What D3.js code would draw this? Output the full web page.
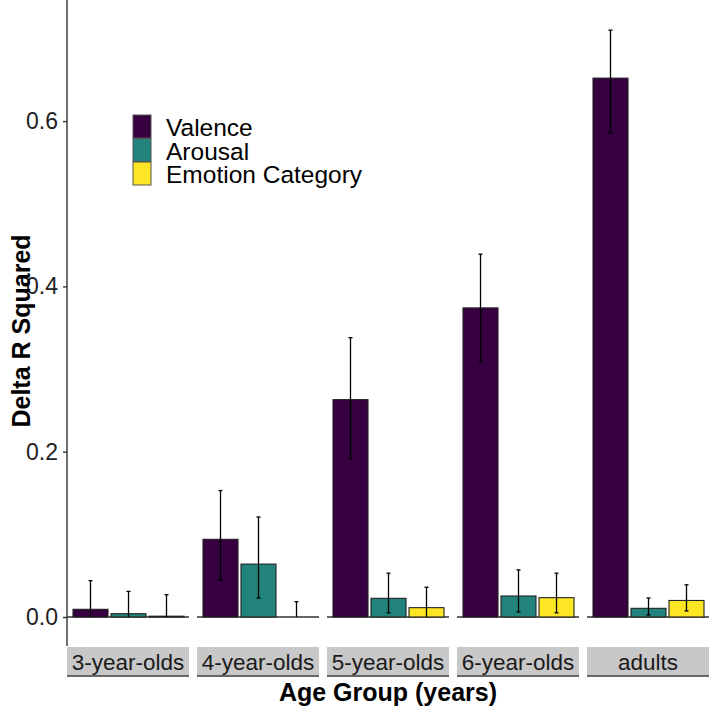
<!DOCTYPE html>
<html>
<head>
<meta charset="utf-8">
<script src="https://cdn.jsdelivr.net/npm/d3@7"></script>
<style>
  html, body { margin: 0; padding: 0; background: #fff; }
  svg { display: block; font-family: "Liberation Sans", Arial, sans-serif; }
</style>
</head>
<body>
<svg id="chart" width="709" height="709"></svg>
<script>
// ---- data ----
const ageGroups = ["3-year-olds", "4-year-olds", "5-year-olds", "6-year-olds", "adults"];
const series = ["Valence", "Arousal", "Emotion Category"];
const colors = ["#360040", "#21837B", "#FDE725"];
const valence      = [0.0093, 0.094, 0.263, 0.374, 0.652];
const valenceLow   = [0.000, 0.045, 0.191, 0.309, 0.586];
const valenceHigh  = [0.044, 0.153, 0.338, 0.439, 0.710];
const arousal      = [0.004, 0.064, 0.0226, 0.0254, 0.0105];
const arousalLow   = [0.000, 0.023, 0.005, 0.006, 0.0024];
const arousalHigh  = [0.031, 0.121, 0.053, 0.057, 0.023];
const emotion      = [0.001, 0.000, 0.0113, 0.0234, 0.020];
const emotionLow   = [0.000, 0.000, 0.000, 0.005, 0.0073];
const emotionHigh  = [0.027, 0.0185, 0.036, 0.053, 0.039];
const yTicks = [0.0, 0.2, 0.4, 0.6];

const values = [valence, arousal, emotion];
const lows = [valenceLow, arousalLow, emotionLow];
const highs = [valenceHigh, arousalHigh, emotionHigh];

const rows = [];
ageGroups.forEach((g, gi) => {
  series.forEach((s, si) => {
    rows.push({group: g, series: s, si, value: values[si][gi], low: lows[si][gi], high: highs[si][gi]});
  });
});

// ---- layout ----
const svg = d3.select("#chart");
const zeroY = 617;
const y = d3.scaleLinear().domain([0, 0.2]).range([zeroY, zeroY - 165.3]);
const panelTop = 0, panelBottom = 646;

const xPanel = d3.scaleBand().domain(ageGroups).range([67, 709]).paddingInner(8 / 130).paddingOuter(0);

const inner = d3.scaleBand().domain(series).range([6, xPanel.bandwidth() - 5]).paddingInner(3 / 38).paddingOuter(0);
const color = d3.scaleOrdinal().domain(series).range(colors);

// panels
const panels = svg.selectAll("g.panel").data(ageGroups).join("g")
  .attr("class", "panel")
  .attr("transform", d => `translate(${xPanel(d)},0)`);

// baseline at zero
panels.append("line")
  .attr("x1", 0).attr("x2", xPanel.bandwidth())
  .attr("y1", y(0)).attr("y2", y(0))
  .attr("stroke", "#333").attr("stroke-width", 1.4);

// bars
panels.each(function(g) {
  const sel = d3.select(this);
  const data = rows.filter(r => r.group === g);
  sel.selectAll("rect.bar").data(data).join("rect")
    .attr("class", "bar")
    .attr("x", d => inner(d.series))
    .attr("width", inner.bandwidth())
    .attr("y", d => y(d.value))
    .attr("height", d => Math.max(0, y(0) - y(d.value)))
    .attr("fill", d => color(d.series))
    .attr("stroke", "#222").attr("stroke-width", 1.1);

  const eb = sel.selectAll("g.err").data(data).join("g").attr("class", "err");
  eb.append("line")
    .attr("x1", d => inner(d.series) + inner.bandwidth() / 2)
    .attr("x2", d => inner(d.series) + inner.bandwidth() / 2)
    .attr("y1", d => y(d.low)).attr("y2", d => y(d.high))
    .attr("stroke", "#000").attr("stroke-width", 1.3);
  eb.append("line")
    .attr("x1", d => inner(d.series) + inner.bandwidth() / 2 - 2)
    .attr("x2", d => inner(d.series) + inner.bandwidth() / 2 + 2)
    .attr("y1", d => y(d.high)).attr("y2", d => y(d.high))
    .attr("stroke", "#000").attr("stroke-width", 1.3);
  eb.filter(d => d.low > 0.001).append("line")
    .attr("x1", d => inner(d.series) + inner.bandwidth() / 2 - 2)
    .attr("x2", d => inner(d.series) + inner.bandwidth() / 2 + 2)
    .attr("y1", d => y(d.low)).attr("y2", d => y(d.low))
    .attr("stroke", "#000").attr("stroke-width", 1.3);
});

// strips
panels.append("rect")
  .attr("x", 0).attr("y", 647)
  .attr("width", xPanel.bandwidth()).attr("height", 28)
  .attr("fill", "#C8C8C8");
panels.append("line")
  .attr("x1", 0).attr("x2", xPanel.bandwidth())
  .attr("y1", 676).attr("y2", 676)
  .attr("stroke", "#333").attr("stroke-width", 1.4);
panels.append("text")
  .attr("x", xPanel.bandwidth() / 2).attr("y", 662)
  .attr("text-anchor", "middle").attr("dominant-baseline", "central")
  .attr("font-size", 22.5).attr("fill", "#1a1a1a")
  .text(d => d);

// y axis
const yAxis = d3.axisLeft(y).tickValues(yTicks).tickFormat(d3.format(".1f")).tickSize(4).tickPadding(5);
const ya = svg.append("g").attr("transform", "translate(67,0)").call(yAxis);
ya.select(".domain").remove();
ya.selectAll(".tick line").attr("stroke", "#333").attr("stroke-width", 1.4);
ya.selectAll(".tick text").attr("font-size", 23).attr("fill", "#222").attr("font-family", "Liberation Sans, Arial, sans-serif");
svg.append("line")
  .attr("x1", 67).attr("x2", 67).attr("y1", panelTop).attr("y2", panelBottom)
  .attr("stroke", "#333").attr("stroke-width", 1.4);

// axis titles
svg.append("text")
  .attr("transform", "translate(30,331) rotate(-90)")
  .attr("text-anchor", "middle")
  .attr("font-size", 25).attr("font-weight", "bold").attr("fill", "#000")
  .text("Delta R Squared");
svg.append("text")
  .attr("x", 388).attr("y", 701)
  .attr("text-anchor", "middle")
  .attr("font-size", 25).attr("font-weight", "bold").attr("fill", "#000")
  .text("Age Group (years)");

// legend
const legend = svg.append("g").attr("transform", "translate(133,115)");
const li = legend.selectAll("g").data(series).join("g")
  .attr("transform", (d, i) => `translate(0,${i * 23.5})`);
li.append("rect")
  .attr("width", 18).attr("height", 23)
  .attr("fill", d => color(d))
  .attr("stroke", "#555").attr("stroke-width", 1);
li.append("text")
  .attr("x", 33).attr("y", 12.5)
  .attr("dominant-baseline", "central")
  .attr("font-size", 24.5).attr("fill", "#000")
  .text(d => d);
</script>
</body>
</html>
